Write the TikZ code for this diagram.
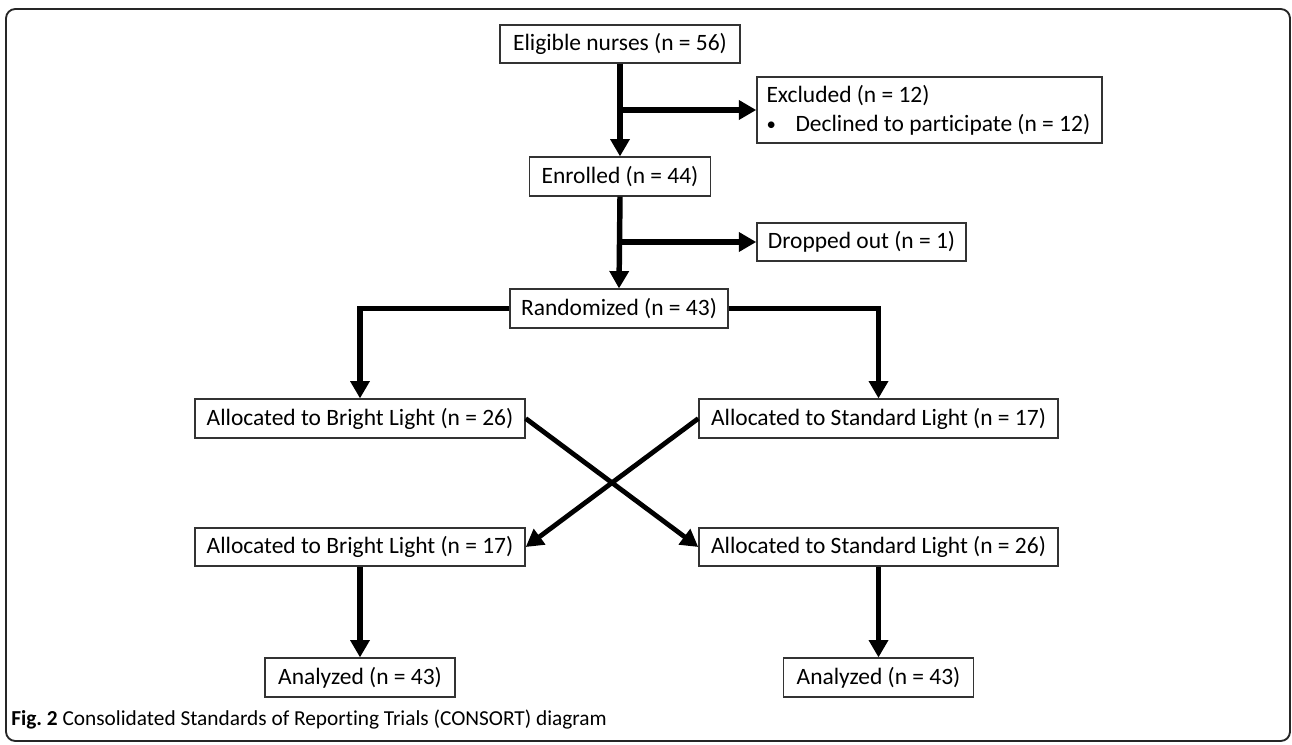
\documentclass[tikz,border=0pt]{standalone}
\usepackage{fontspec}
\setmainfont{Carlito}[Ligatures=CommonOff]
\usetikzlibrary{arrows.meta}
\begin{document}
\frenchspacing
\begin{tikzpicture}[x=0.75pt,y=-0.75pt,
  box/.style={draw=black!80,line width=1.1pt,rectangle,inner sep=0pt,minimum height=29pt,
    font=\fontsize{17.6pt}{21pt}\selectfont,text=black},
  txt/.style={inner sep=0pt,font=\fontsize{17.6pt}{21.75pt}\selectfont,text=black},
  conn/.style={line width=4.1pt,draw=black,-{Triangle[length=13pt,width=14pt]}},
  diag/.style={line width=3.6pt,draw=black,-{Triangle[length=13pt,width=14pt]}}]
\useasboundingbox (0,0) rectangle (1292,745);
\draw[black!85,line width=1.4pt,rounded corners=7pt] (6,9) rectangle (1290,741);

\node[box,minimum width=180pt,minimum height=28.5pt] (elig) at (620,44) {Eligible nurses (n = 56)};
\node[box,minimum width=258.75pt,minimum height=49.5pt] (excl) at (929.5,110) {};
\node[txt,anchor=west,align=left] (excltxt) at ([xshift=7.5pt]excl.west)
  {Excluded (n = 12)\\\makebox[21.75pt][l]{\raisebox{0.5pt}{\scalebox{0.8}{•}}}Declined to participate (n = 12)};
\node[box,minimum width=135.75pt] (enr) at (620,176.5) {Enrolled (n = 44)};
\node[box,minimum width=156.75pt,minimum height=28.5pt] (drop) at (861.5,242) {Dropped out (n = 1)};
\node[box,minimum width=163.5pt] (rand) at (619,308.5) {Randomized (n = 43)};
\node[box,minimum width=247.5pt] (b26) at (360,418.5) {Allocated to Bright Light (n = 26)};
\node[box,minimum width=269.25pt] (s17) at (878.5,418.5) {Allocated to Standard Light (n = 17)};
\node[box,minimum width=247.5pt,minimum height=28.5pt] (b17) at (360,547) {Allocated to Bright Light (n = 17)};
\node[box,minimum width=269.25pt,minimum height=28.5pt] (s26) at (878.5,547) {Allocated to Standard Light (n = 26)};
\node[box,minimum width=142.5pt] (an1) at (360,677.5) {Analyzed (n = 43)};
\node[box,minimum width=142.5pt] (an2) at (878.5,677.5) {Analyzed (n = 43)};

\coordinate (j1) at (620,110);
\coordinate (j2) at (620,242);

\draw[conn] (elig.south) -- (enr.north);
\draw[conn] (j1) -- (excl.west);
\draw[conn] (enr.south) -- (rand.north);
\draw[conn] (j2) -- (drop.west);
\draw[conn] (rand.west) -| (b26.north);
\draw[conn] (rand.east) -| (s17.north);
\draw[diag] (b26.east) -- (s26.west);
\draw[diag] (s17.west) -- (b17.east);
\draw[conn] (b17.south) -- (an1.north);
\draw[conn] (s26.south) -- (an2.north);

\node[anchor=west,inner sep=0pt,font=\fontsize{16pt}{19pt}\selectfont] (cap) at (11,720)
  {\textbf{Fig. 2} Consolidated Standards of Reporting Trials (CONSORT) diagram};
\end{tikzpicture}
\end{document}
